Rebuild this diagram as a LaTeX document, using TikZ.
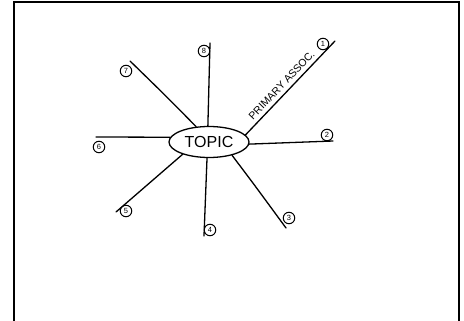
\documentclass[tikz,border=0pt]{standalone}
\usepackage{fontspec}
\setmainfont{Liberation Sans}
\usetikzlibrary{shapes.geometric}
\begin{document}
\begin{tikzpicture}[x=1pt,y=-1pt,
  stroke/.style={line width=1.3pt,line cap=round},
  numlabel/.style={draw,circle,line width=1pt,minimum size=11.5pt,inner sep=0pt,font=\fontsize{7.5}{7.5}\selectfont},
  topicnode/.style={draw,ellipse,line width=1.3pt,minimum width=80pt,minimum height=31pt,inner sep=0pt,font=\fontsize{16}{16}\selectfont}]
\useasboundingbox (0,0) rectangle (464,321);
\fill[white] (0,0) rectangle (464,321);
\draw[line width=1.8pt] (14,322) -- (14,2) -- (459,2) -- (459,322);
\node[topicnode] (topic) at (209,142) {TOPIC};
% end points
\coordinate (e1) at (335,41);
\coordinate (e2) at (333,141);
\coordinate (e3) at (286,228);
\coordinate (e4) at (204,236);
\coordinate (e5) at (116,212);
\coordinate (e6) at (96,137);
\coordinate (e7) at (130,61);
\coordinate (e8) at (210,43);
\draw[stroke] (topic.11) -- node[pos=0.47,above=0.5pt,sloped,font=\fontsize{10.5}{10.5}\selectfont]{PRIMARY ASSOC.} (e1);
\draw[stroke] (topic.-3) -- (e2);
\draw[stroke] (topic.-30) .. controls (253,183) .. (e3);
\draw[stroke] (topic.-97) -- (e4);
\draw[stroke] (topic.205) -- (e5);
\draw[stroke] (topic.130) .. controls (168,98) .. (e7);
\draw[stroke] (topic.173) -- (e6);
\draw[stroke] (topic.94) -- (e8);
\node[numlabel] (n1) at (323,44) {1};
\node[numlabel] (n2) at (327,135) {2};
\node[numlabel] (n3) at (289,218) {3};
\node[numlabel] (n4) at (210,230) {4};
\node[numlabel] (n5) at (126,211) {5};
\node[numlabel] (n6) at (99,147) {6};
\node[numlabel] (n7) at (126,71) {7};
\node[numlabel] (n8) at (204,51) {8};
\end{tikzpicture}
\end{document}
